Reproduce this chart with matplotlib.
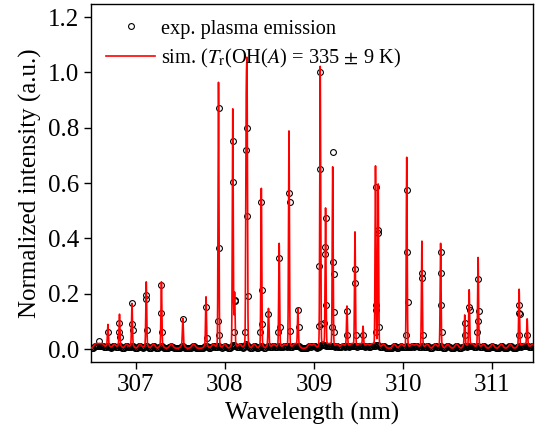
import numpy as np
import matplotlib
matplotlib.use('Agg')
import matplotlib.pyplot as plt

plt.rcParams['font.family'] = ['Liberation Serif', 'DejaVu Serif']
plt.rcParams['mathtext.fontset'] = 'stix'

# Simulated OH(A-X) rotational lines: centre (nm) and peak height
line_wl = [306.69, 306.82, 306.96, 307.12, 307.29, 307.53, 307.79, 307.93,
           308.09, 308.11, 308.24, 308.25, 308.41, 308.49, 308.61, 308.72,
           308.82, 309.07, 309.13, 309.21, 309.37, 309.46, 309.55, 309.69,
           309.72, 310.04, 310.21, 310.42, 310.69, 310.74, 310.84, 311.30,
           311.39]
line_h = [0.071, 0.108, 0.147, 0.225, 0.225, 0.093, 0.171, 0.946,
          0.842, 0.18, 0.756, 0.881, 0.563, 0.129, 0.364, 0.77,
          0.129, 1.0, 0.487, 0.639, 0.137, 0.404, 0.063, 0.639,
          0.575, 0.675, 0.372, 0.364, 0.105, 0.195, 0.313, 0.198,
          0.09]

# weak lines that only show up as bumps on the baseline
weak_wl = [306.55, 306.59, 306.63, 306.76, 306.90, 307.05, 307.20, 307.40,
           307.65, 307.87, 308.00, 308.17, 308.33, 308.55, 308.67, 308.78,
           308.95, 309.00, 309.10, 309.17, 309.26, 309.32, 309.42, 309.51,
           309.60, 309.65, 309.78, 309.90, 309.98, 310.10, 310.15, 310.27,
           310.36, 310.50, 310.60, 310.78, 310.90, 311.00, 311.10, 311.20,
           311.35, 311.45]
weak_h = 0.015

exp_wl = [306.59, 306.69,
          306.82, 306.82, 306.83,
          306.96, 306.96, 306.97,
          307.12, 307.12, 307.13,
          307.29, 307.28, 307.30,
          307.53,
          307.79, 307.80,
          307.93, 307.94, 307.92, 307.94,
          308.09, 308.09, 308.11, 308.11, 308.10,
          308.24, 308.25, 308.25, 308.26, 308.23,
          308.41, 308.42, 308.42, 308.40,
          308.49,
          308.61, 308.62, 308.60,
          308.72, 308.73, 308.73,
          308.82, 308.83,
          309.07, 309.07, 309.06, 309.06, 309.08,
          309.13, 309.12, 309.12, 309.14, 309.11,
          309.21, 309.21, 309.22, 309.22, 309.20, 309.22,
          309.37, 309.37,
          309.46, 309.46, 309.47,
          309.55,
          309.69, 309.69, 309.70, 309.70,
          309.72, 309.72, 309.73,
          310.04, 310.04, 310.05, 310.03,
          310.21, 310.21, 310.22,
          310.42, 310.42, 310.42, 310.43,
          310.69, 310.69,
          310.74, 310.75,
          310.84, 310.85, 310.84, 310.83,
          311.30, 311.30, 311.31, 311.30,
          311.39]
exp_val = [0.03, 0.06,
           0.093, 0.063, 0.045,
           0.167, 0.09, 0.07,
           0.195, 0.18, 0.07,
           0.23, 0.13, 0.06,
           0.107,
           0.152, 0.04,
           0.87, 0.366, 0.10, 0.05,
           0.753, 0.603, 0.177, 0.175, 0.06,
           0.72, 0.80, 0.48, 0.19, 0.06,
           0.533, 0.213, 0.09, 0.06,
           0.125,
           0.33, 0.08, 0.06,
           0.563, 0.533, 0.065,
           0.141, 0.08,
           1.0, 0.65, 0.30, 0.085, 0.09,
           0.473, 0.37, 0.343, 0.159, 0.095,
           0.711, 0.316, 0.271, 0.135, 0.08, 0.06,
           0.137, 0.05,
           0.288, 0.24, 0.05,
           0.05,
           0.587, 0.14, 0.16, 0.06,
           0.43, 0.42, 0.08,
           0.575, 0.352, 0.17, 0.05,
           0.274, 0.258, 0.05,
           0.352, 0.274, 0.161, 0.06,
           0.093, 0.05,
           0.153, 0.14,
           0.252, 0.137, 0.10, 0.06,
           0.159, 0.129, 0.125, 0.05,
           0.05]


def baseline(x, scale=1.0):
    y = np.full_like(x, 0.003)
    for c in list(line_wl) + list(weak_wl):
        y += scale * weak_h * np.exp(-0.5 * ((x - c) / 0.018) ** 2)
    return y


x = np.arange(306.45, 311.5, 0.0005)
sim = baseline(x)
for c, h in zip(line_wl, line_h):
    sim += h * np.exp(-0.5 * ((x - c) / 0.005) ** 2)

x_exp = np.arange(306.5, 311.47, 0.012)
y_exp = baseline(x_exp, 0.5)

fig = plt.figure(figsize=(5.35, 4.47), dpi=100)
ax = fig.add_axes([0.170, 0.190, 0.827, 0.801])

h_exp, = ax.plot(np.concatenate([x_exp, exp_wl]), np.concatenate([y_exp, exp_val]),
                 'o', mfc='none', mec='black', ms=4.2, mew=0.8, zorder=2)
h_sim, = ax.plot(x, sim, '-', color='red', lw=1.2, zorder=3)

ax.legend([h_exp, h_sim],
          ['exp. plasma emission', r'sim. ($T_{\rm r}$(OH($A$) = 335 $\pm$ 9 K)'],
          loc='upper left', frameon=False, fontsize=14.7, handlelength=2.4,
          borderaxespad=0.35, handletextpad=0.3, labelspacing=0.4,
          bbox_to_anchor=(0.0, 1.0))

ax.set_xlim(306.5, 311.46)
ax.set_ylim(-0.047, 1.247)
ax.set_xticks([307, 308, 309, 310, 311])
ax.set_yticks([0.0, 0.2, 0.4, 0.6, 0.8, 1.0, 1.2])
ax.set_yticklabels(['0.0', '0.2', '0.4', '0.6', '0.8', '1.0', '1.2'])
ax.tick_params(direction='out', length=5, width=1, labelsize=18)
ax.set_xlabel('Wavelength (nm)', fontsize=18)
ax.set_ylabel('Normalized intensity (a.u.)', fontsize=18)
for s in ax.spines.values():
    s.set_linewidth(1.0)

fig.savefig('out.png', dpi=100)
